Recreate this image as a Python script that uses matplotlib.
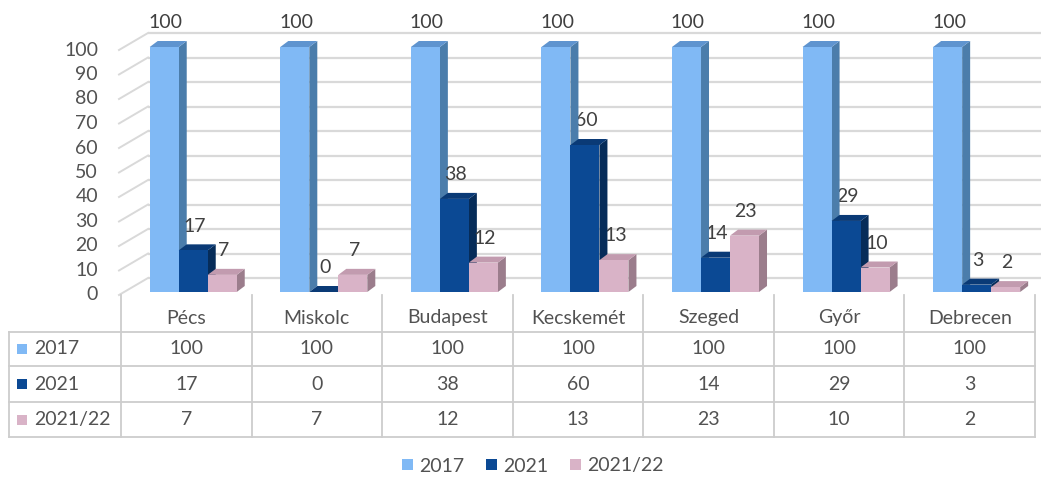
"""
Pseudo-3D clustered columns with a data table underneath (Excel look).
"""
import matplotlib
matplotlib.use("Agg")
import matplotlib.pyplot as plt
from matplotlib.patches import Polygon, Patch
from matplotlib.lines import Line2D

plt.rcParams["font.family"] = ["Lato", "DejaVu Sans"]

# --- data -------------------------------------------------------------------
cities = ["Pécs", "Miskolc", "Budapest", "Kecskemét", "Szeged", "Győr", "Debrecen"]
series_names = ["2017", "2021", "2021/22"]
v2017 = [100, 100, 100, 100, 100, 100, 100]
v2021 = [17, 0, 38, 60, 14, 29, 3]
v2122 = [7, 7, 12, 13, 23, 10, 2]
yticks = [0, 10, 20, 30, 40, 50, 60, 70, 80, 90, 100]

# front / side / top face colours per series
FACES = [
    ("#80B9F5", "#4B7DAB", "#5F94CF"),
    ("#0B4994", "#062C59", "#0A3A76"),
    ("#D9B3C7", "#9B7D8C", "#C29BAF"),
]
TXT = "#525252"
GRID = "#D9D9D9"
TLINE = "#CDCDCD"
FS = 14

W, H = 1043, 480
fig = plt.figure(figsize=(W / 100, H / 100), dpi=100)


def fx(x):
    return x / W


def fy(y):
    return 1 - y / H


# plot axes: x = category index (0..7), y = value; placed to match the table
X0, X1, Y0, Y100 = 121, 1035, 292, 47
ax = fig.add_axes([fx(X0), fy(Y0), fx(X1 - X0), (Y0 - Y100) / H])
ax.set_xlim(0, 7)
ax.set_ylim(0, 100)
ax.axis("off")

PX = 7 / (X1 - X0)          # data-x per pixel
PY = 100 / (Y0 - Y100)      # data-y per pixel

# walls: back wall sits up/right of the bar plane, left-front edge slightly below
BACK_X, BACK_DY = 27 * PX, 14 * PY
EDGE_X, EDGE_DY = -2 * PX, -3 * PY
RIGHT_END = (1041 - X0) * PX
for v in yticks:
    ax.plot([BACK_X, RIGHT_END], [v + BACK_DY] * 2, color=GRID, lw=1.6,
            zorder=1, clip_on=False, solid_capstyle="butt")
    ax.plot([EDGE_X, BACK_X], [v + EDGE_DY, v + BACK_DY], color=GRID, lw=1.4,
            zorder=1, clip_on=False)
    ax.text(-23 * PX, v + EDGE_DY, str(v), ha="right", va="center",
            fontsize=FS, color=TXT, clip_on=False)

# bars
BAR_W = 29 * PX
BAR_OFF = 0.22
DDX, DDY = 8 * PX, 6 * PY
z = 2
for i in range(len(cities)):
    for k, vals in enumerate([v2017, v2021, v2122]):
        v = vals[i]
        front, side, top = FACES[k]
        left = i + BAR_OFF + k * BAR_W
        right = left + BAR_W
        ax.add_patch(Polygon([(right, 0), (right, v), (right + DDX, v + DDY),
                              (right + DDX, DDY)], closed=True, fc=side,
                             ec="none", zorder=z, clip_on=False))
        ax.add_patch(Polygon([(left, v), (right, v), (right + DDX, v + DDY),
                              (left + DDX, v + DDY)], closed=True, fc=top,
                             ec="none", zorder=z, clip_on=False))
        ax.bar(left, v, BAR_W, align="edge", color=front, zorder=z + 0.5,
               clip_on=False, lw=0)
        ax.annotate(str(v), (left + BAR_W / 2, v), xytext=(1, 17.5),
                    textcoords="offset points", ha="center", va="center",
                    fontsize=FS, color="#404040", zorder=10,
                    annotation_clip=False)
        z += 1

# data table (figure pixel layout)
col_w = (X1 - X0) / len(cities)
col_edges = [X0 + j * col_w for j in range(len(cities) + 1)]
row_lines = [332, 366, 402, 437]
TL = 9


def hline(x0, x1, y):
    fig.add_artist(Line2D([fx(x0), fx(x1)], [fy(y)] * 2, color=TLINE, lw=1.3))


def vline(x, y0, y1):
    fig.add_artist(Line2D([fx(x)] * 2, [fy(y0), fy(y1)], color=TLINE, lw=1.3))


for y in row_lines:
    hline(TL, X1, y)
vline(TL, row_lines[0], row_lines[-1])
for x in col_edges:
    vline(x, 295, row_lines[-1])

for j, name in enumerate(cities):
    cx = col_edges[j] + col_w / 2
    fig.text(fx(cx), fy(318), name, ha="center", va="center", fontsize=FS,
             color=TXT)
for r, (name, vals) in enumerate(zip(series_names, [v2017, v2021, v2122])):
    cy = (row_lines[r] + row_lines[r + 1]) / 2
    fig.add_artist(plt.Rectangle((fx(17), fy(cy + 5)), fx(10), 10 / H,
                                 fc=FACES[r][0], ec="none"))
    fig.text(fx(34), fy(cy), name, ha="left", va="center", fontsize=FS,
             color=TXT)
    for j, v in enumerate(vals):
        cx = col_edges[j] + col_w / 2
        fig.text(fx(cx), fy(cy), str(v), ha="center", va="center",
                 fontsize=FS, color=TXT)

# legend
handles = [Patch(fc=FACES[k][0], ec="none") for k in range(3)]
fig.legend(handles, series_names, loc="center", ncol=3,
           bbox_to_anchor=(fx(533), fy(466)), frameon=False, fontsize=FS,
           handlelength=0.55, handleheight=0.55, handletextpad=0.35,
           columnspacing=1.1, labelcolor=TXT)

fig.savefig("out.png", dpi=100)
